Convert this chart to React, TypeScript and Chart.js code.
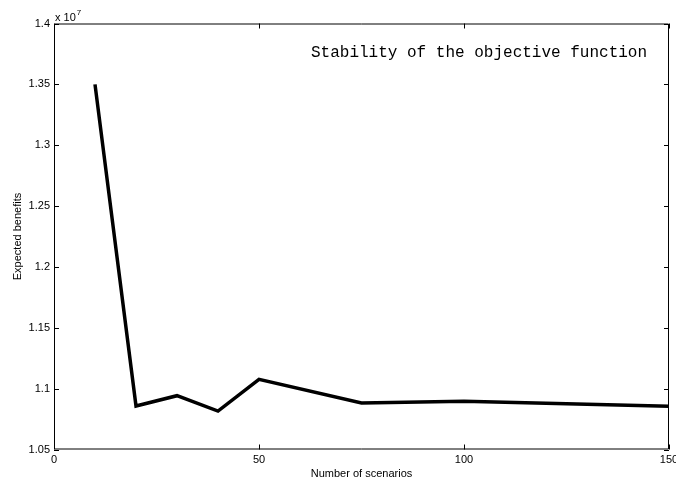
import React, { useEffect, useRef } from "react";
import { Chart, registerables } from "chart.js";

Chart.register(...registerables);

const scenarios = [10, 20, 30, 40, 50, 75, 100, 150];
const expectedBenefits = [1.35, 1.0857, 1.0942, 1.0816, 1.1076, 1.0882, 1.0897, 1.0856];
const xTicks = [0, 50, 100, 150];
const yTicks = [1.05, 1.1, 1.15, 1.2, 1.25, 1.3, 1.35, 1.4];

const W = 676;
const H = 482;
const LEFT = 54;
const RIGHT = 669;
const TOP = 23.5;
const BOTTOM = 449.5;
const SANS = "Arial, 'Liberation Sans', Helvetica, sans-serif";

const fmtY = (v: number) => {
  const s = v.toFixed(2);
  return s.endsWith("0") ? s.slice(0, -1) : s;
};

// MATLAB-style frame: inward ticks on all four sides, exponent, annotation text
const framePlugin = {
  id: "frame",
  afterDraw(chart: any) {
    const { ctx, chartArea } = chart;
    const xs = chart.scales.x;
    const ys = chart.scales.y;
    const { left, right, top, bottom } = chartArea;
    const tl = 5;
    ctx.save();
    ctx.strokeStyle = "#000";
    ctx.lineWidth = 1;
    ctx.beginPath();
    ctx.rect(left + 0.5, top + 0.5, right - left - 1, bottom - top - 1);
    for (const v of xTicks) {
      const px = Math.round(xs.getPixelForValue(v)) + 0.5;
      ctx.moveTo(px, bottom);
      ctx.lineTo(px, bottom - tl);
      ctx.moveTo(px, top);
      ctx.lineTo(px, top + tl);
    }
    for (const v of yTicks) {
      const py = Math.round(ys.getPixelForValue(v)) + 0.5;
      ctx.moveTo(left, py);
      ctx.lineTo(left + tl, py);
      ctx.moveTo(right, py);
      ctx.lineTo(right - tl, py);
    }
    ctx.stroke();

    ctx.fillStyle = "#000";
    ctx.textBaseline = "alphabetic";
    ctx.textAlign = "left";
    ctx.font = `11px ${SANS}`;
    ctx.fillText("x 10", left + 1, top - 3);
    const w = ctx.measureText("x 10").width;
    ctx.font = `8px ${SANS}`;
    ctx.fillText("7", left + 1 + w + 1, top - 9);

    ctx.font = `16px 'Liberation Mono', 'Courier New', monospace`;
    ctx.fillText("Stability of the objective function", 311, 57);
    ctx.restore();
  },
};

export default function App() {
  const ref = useRef<HTMLCanvasElement | null>(null);

  useEffect(() => {
    if (!ref.current) return;
    const chart = new Chart(ref.current, {
      type: "line",
      data: {
        datasets: [
          {
            data: scenarios.map((x, i) => ({ x, y: expectedBenefits[i] })),
            borderColor: "#000",
            borderWidth: 3.5,
            pointRadius: 0,
            tension: 0,
            fill: false,
          },
        ],
      },
      options: {
        animation: false,
        responsive: false,
        maintainAspectRatio: false,
        layout: { padding: { top: TOP, right: W - RIGHT, left: 0, bottom: 0 } },
        plugins: {
          legend: { display: false },
          tooltip: { enabled: false },
        },
        scales: {
          x: {
            type: "linear",
            min: 0,
            max: 150,
            grid: { display: false, drawTicks: false },
            border: { display: false },
            afterBuildTicks: (s: any) => {
              s.ticks = xTicks.map((v) => ({ value: v }));
            },
            afterFit: (s: any) => {
              s.height = H - BOTTOM;
              s.paddingLeft = 0;
              s.paddingRight = 0;
            },
            ticks: {
              color: "#000",
              font: { family: SANS, size: 11 },
              padding: 4,
              maxRotation: 0,
              autoSkip: false,
              callback: (v: any) => String(v),
            },
            title: {
              display: true,
              text: "Number of scenarios",
              color: "#000",
              font: { family: SANS, size: 11 },
              padding: { top: 0, bottom: 1 },
            },
          },
          y: {
            type: "linear",
            min: 1.05,
            max: 1.4,
            grid: { display: false, drawTicks: false },
            border: { display: false },
            afterBuildTicks: (s: any) => {
              s.ticks = yTicks.map((v) => ({ value: v }));
            },
            afterFit: (s: any) => {
              s.width = LEFT;
              s.paddingTop = 0;
              s.paddingBottom = 0;
            },
            ticks: {
              color: "#000",
              font: { family: SANS, size: 11 },
              padding: 4,
              autoSkip: false,
              callback: (v: any) => fmtY(Number(v)),
            },
            title: {
              display: true,
              text: "Expected benefits",
              color: "#000",
              font: { family: SANS, size: 11 },
              padding: { top: 11, bottom: 0 },
            },
          },
        },
      },
      plugins: [framePlugin],
    });
    return () => chart.destroy();
  }, []);

  return (
    <div style={{ position: "fixed", left: 0, top: 0, width: W, height: H, background: "#fff" }}>
      <canvas ref={ref} width={W} height={H} style={{ width: W, height: H }} />
    </div>
  );
}
